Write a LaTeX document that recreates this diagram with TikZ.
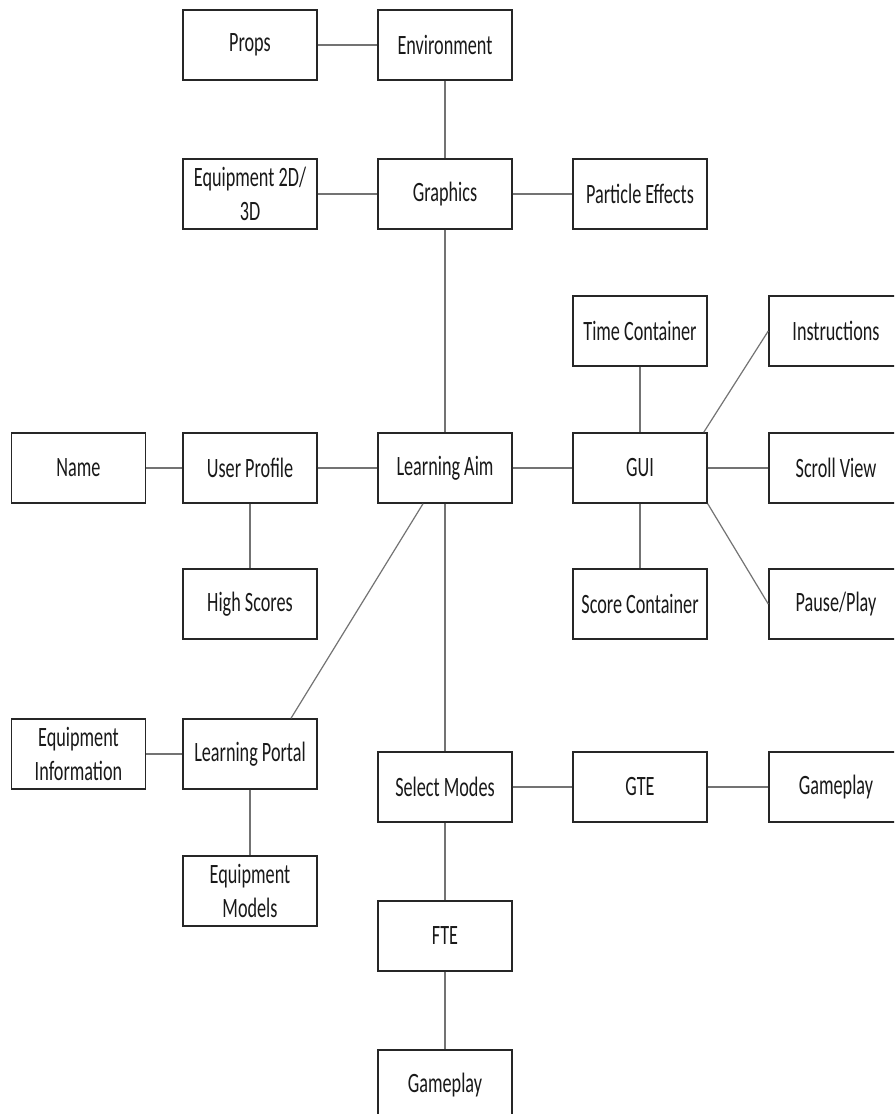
\documentclass[tikz,border=0pt]{standalone}
\usepackage{fontspec}
\setmainfont{Carlito}[FakeStretch=0.65]
\usetikzlibrary{calc}
\begin{document}
\begin{tikzpicture}[x=0.75pt,y=-0.75pt,
  box/.style={draw=black!85, line width=1.1pt, fill=white,
    minimum width=100.5pt, minimum height=52.5pt, align=center,
    inner sep=0pt, font=\fontsize{21}{25}\selectfont, text=black!90},
  link/.style={draw=black!55, line width=0.9pt}]
\path[use as bounding box] (0,0) rectangle (894,1114);
\clip (0,0) rectangle (894,1114);
\fill[white] (0,0) rectangle (894,1114);

% boxes
\node[box] (props)   at (250,45)  {Props};
\node[box] (env)     at (445,45)  {Environment};
\node[box] (equip)   at (250,194) {Equipment 2D/\\3D};
\node[box] (gfx)     at (445,194) {Graphics};
\node[box] (fx)      at (640,194) {Particle Effects};
\node[box] (time)    at (640,331) {Time Container};
\node[box] (instr)   at (836,331) {Instructions};
\node[box] (name)    at (78.5,468) {Name};
\node[box] (user)    at (250,468) {User Profile};
\node[box] (aim)     at (445,468) {Learning Aim};
\node[box] (gui)     at (640,468) {GUI};
\node[box] (scroll)  at (836,468) {Scroll View};
\node[box] (high)    at (250,604) {High Scores};
\node[box] (score)   at (640,604) {Score Container};
\node[box] (pause)   at (836,604) {Pause/Play};
\node[box] (info)    at (78.5,754) {Equipment\\Information};
\node[box] (portal)  at (250,754) {Learning Portal};
\node[box] (modes)   at (445,787) {Select Modes};
\node[box] (gte)     at (640,787) {GTE};
\node[box] (play1)   at (836,787) {Gameplay};
\node[box] (models)  at (250,891) {Equipment\\Models};
\node[box] (fte)     at (445,936) {FTE};
\node[box] (play2)   at (445,1085) {Gameplay};

% connectors
\draw[link] (props) -- (env);
\draw[link] (env) -- (gfx);
\draw[link] (equip) -- (gfx);
\draw[link] (gfx) -- (fx);
\draw[link] (gfx) -- (aim);
\draw[link] (name) -- (user);
\draw[link] (user) -- (aim);
\draw[link] (user) -- (high);
\draw[link] (aim) -- (gui);
\draw[link] (time) -- (gui);
\draw[link] ($(gui.north east)+(-4,0)$) -- (instr.west);
\draw[link] (gui) -- (scroll);
\draw[link] (gui.south east) -- (pause.west);
\draw[link] (gui) -- (score);
\draw[link] ($(aim.south)+(-22,0)$) -- ($(portal.north)+(41,0)$);
\draw[link] (aim) -- (modes);
\draw[link] (info) -- (portal);
\draw[link] (portal) -- (models);
\draw[link] (modes) -- (gte);
\draw[link] (gte) -- (play1);
\draw[link] (modes) -- (fte);
\draw[link] (fte) -- (play2);
\end{tikzpicture}
\end{document}
